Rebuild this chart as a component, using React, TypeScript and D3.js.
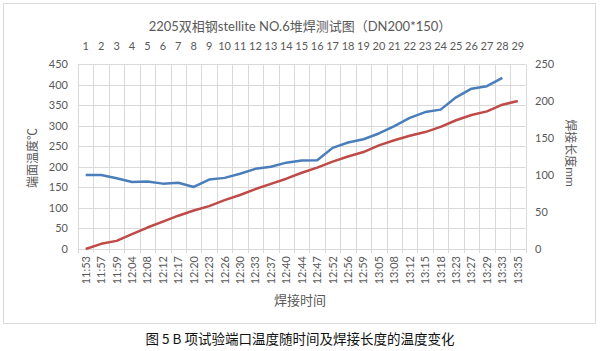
import React from "react";
import * as d3 from "d3";

const times = [
  "11:53", "11:57", "11:59", "12:04", "12:08", "12:12", "12:17", "12:20", "12:23", "12:26",
  "12:30", "12:33", "12:37", "12:40", "12:44", "12:47", "12:52", "12:56", "12:59", "13:05",
  "13:08", "13:12", "13:15", "13:18", "13:23", "13:27", "13:29", "13:33", "13:35",
];
const passNo = times.map((_, i) => String(i + 1));
// 端面温度 (left axis), last point missing
const temps = [
  180, 180, 172, 163, 164, 159, 161, 151, 169, 173, 183, 195, 200, 210, 215, 216, 246, 259,
  267, 281, 299, 319, 333, 339, 369, 390, 396, 416,
];
// 焊接长度 (right axis)
const lengths = [
  0, 7, 11, 20, 29, 37, 45, 52, 58, 66, 73, 81, 88, 95, 103, 110, 118, 125, 131, 140, 147,
  153, 158, 165, 174, 181, 186, 195, 200,
];
const leftTicks = [0, 50, 100, 150, 200, 250, 300, 350, 400, 450];
const rightTicks = [0, 50, 100, 150, 200, 250];

const W = 600;
const H = 351;
const M = { left: 78, right: 525.5, top: 64, bottom: 249 };
const FONT = "'Lato', 'Noto Sans CJK SC', sans-serif";
const GRAY = "#595959";

export default function App() {
  const x = d3.scaleBand().domain(times).range([M.left, M.right]).padding(0);
  const cx = (t: string) => (x(t) as number) + x.bandwidth() / 2;
  const yL = d3.scaleLinear().domain([0, 450]).range([M.bottom, M.top]);
  const yR = d3.scaleLinear().domain([0, 250]).range([M.bottom, M.top]);

  const tempLine = d3
    .line<number>()
    .x((_, i) => cx(times[i]))
    .y(d => yL(d));
  const lenLine = d3
    .line<number>()
    .x((_, i) => cx(times[i]))
    .y(d => yR(d));

  const bounds = [...times.map(t => x(t) as number), M.right];

  return (
    <div style={{ position: "absolute", left: 0, top: 0 }}>
      <svg width={W} height={H} style={{ display: "block", background: "#fff" }}>
        <rect x={3.5} y={3.5} width={592} height={320} fill="#fff" stroke="#d9d9d9" />
        <text x={300} y={31} textAnchor="middle" fontFamily={FONT} fontSize={13} fill={GRAY}>
          2205双相钢stellite NO.6堆焊测试图（DN200*150）
        </text>

        {/* grid */}
        <g stroke="#d9d9d9" strokeWidth={1}>
          {leftTicks.map(v => (
            <line key={"h" + v} x1={M.left} x2={M.right} y1={Math.round(yL(v)) + 0.5} y2={Math.round(yL(v)) + 0.5} />
          ))}
          {bounds.map((b, i) => (
            <line key={"v" + i} x1={Math.round(b) + 0.5} x2={Math.round(b) + 0.5} y1={M.top} y2={M.bottom + 4} />
          ))}
        </g>

        {/* top category numbers */}
        <g fontFamily={FONT} fontSize={11} fill={GRAY} textAnchor="middle">
          {passNo.map((n, i) => (
            <text key={n} x={cx(times[i])} y={50}>{n}</text>
          ))}
        </g>

        {/* left axis */}
        <g fontFamily={FONT} fontSize={11} fill={GRAY} textAnchor="end">
          {leftTicks.map(v => (
            <text key={v} x={68} y={yL(v) + 4}>{v}</text>
          ))}
        </g>
        {/* right axis */}
        <g fontFamily={FONT} fontSize={11} fill={GRAY} textAnchor="start">
          {rightTicks.map(v => (
            <text key={v} x={535} y={yR(v) + 4}>{v}</text>
          ))}
        </g>

        <text
          transform={`translate(37,158) rotate(-90)`}
          textAnchor="middle"
          fontFamily={FONT}
          fontSize={12}
          fill={GRAY}
        >
          端面温度℃
        </text>
        <text
          transform={`translate(566,153) rotate(90)`}
          textAnchor="middle"
          fontFamily={FONT}
          fontSize={12}
          fill={GRAY}
        >
          焊接长度mm
        </text>

        {/* bottom time labels */}
        <g fontFamily={FONT} fontSize={11} fill={GRAY} textAnchor="end">
          {times.map(t => (
            <text key={t} transform={`translate(${cx(t) + 4},256) rotate(-90)`}>{t}</text>
          ))}
        </g>
        <text x={300} y={305} textAnchor="middle" fontFamily={FONT} fontSize={13} fill={GRAY}>
          焊接时间
        </text>

        <path d={tempLine(temps) || ""} fill="none" stroke="#4a7ebb" strokeWidth={2.5} strokeLinejoin="round" />
        <path d={lenLine(lengths) || ""} fill="none" stroke="#be4b48" strokeWidth={2.5} strokeLinejoin="round" />

        <text x={300} y={344} textAnchor="middle" fontFamily="'Noto Sans CJK SC', sans-serif" fontSize={13.5} fill="#111">
          图 5 B 项试验端口温度随时间及焊接长度的温度变化
        </text>
      </svg>
    </div>
  );
}
